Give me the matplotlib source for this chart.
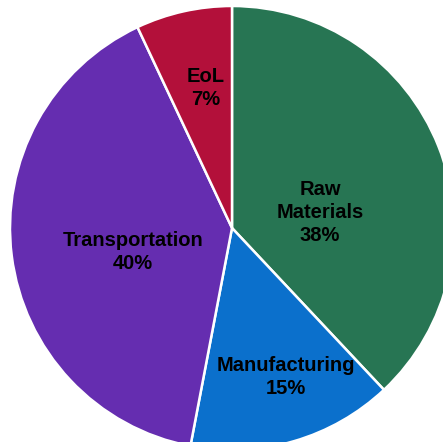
import matplotlib
matplotlib.use("Agg")
import matplotlib.pyplot as plt

plt.rcParams["font.family"] = ["Liberation Sans", "DejaVu Sans"]

labels = ["Raw\nMaterials", "Manufacturing", "Transportation", "EoL"]
shares = [38, 15, 40, 7]
colors = ["#277553", "#0B70CC", "#652DB0", "#B3103A"]

# label centres (data units, pie radius = 1)
label_pos = [(0.396, 0.07), (0.243, -0.672), (-0.446, -0.108), (-0.117, 0.63)]

fig = plt.figure(figsize=(4.43, 4.42), dpi=100)
ax = fig.add_axes([0, 0, 1, 1])

wedges, _ = ax.pie(
    shares, colors=colors, startangle=90, counterclock=False,
    radius=1.0, wedgeprops=dict(edgecolor="white", linewidth=1.8),
)

for (x, y), lab, v in zip(label_pos, labels, shares):
    ax.text(x, y, f"{lab}\n{v}%", ha="center", va="center",
            fontsize=14.5, fontweight="bold", color="black", linespacing=1.28)

ax.set_xlim(-232 / 222, (443 - 232) / 222)
ax.set_ylim(-(442 - 228) / 222, 228 / 222)
ax.set_aspect("auto")
ax.axis("off")

fig.savefig("out.png", dpi=100, facecolor="white")
